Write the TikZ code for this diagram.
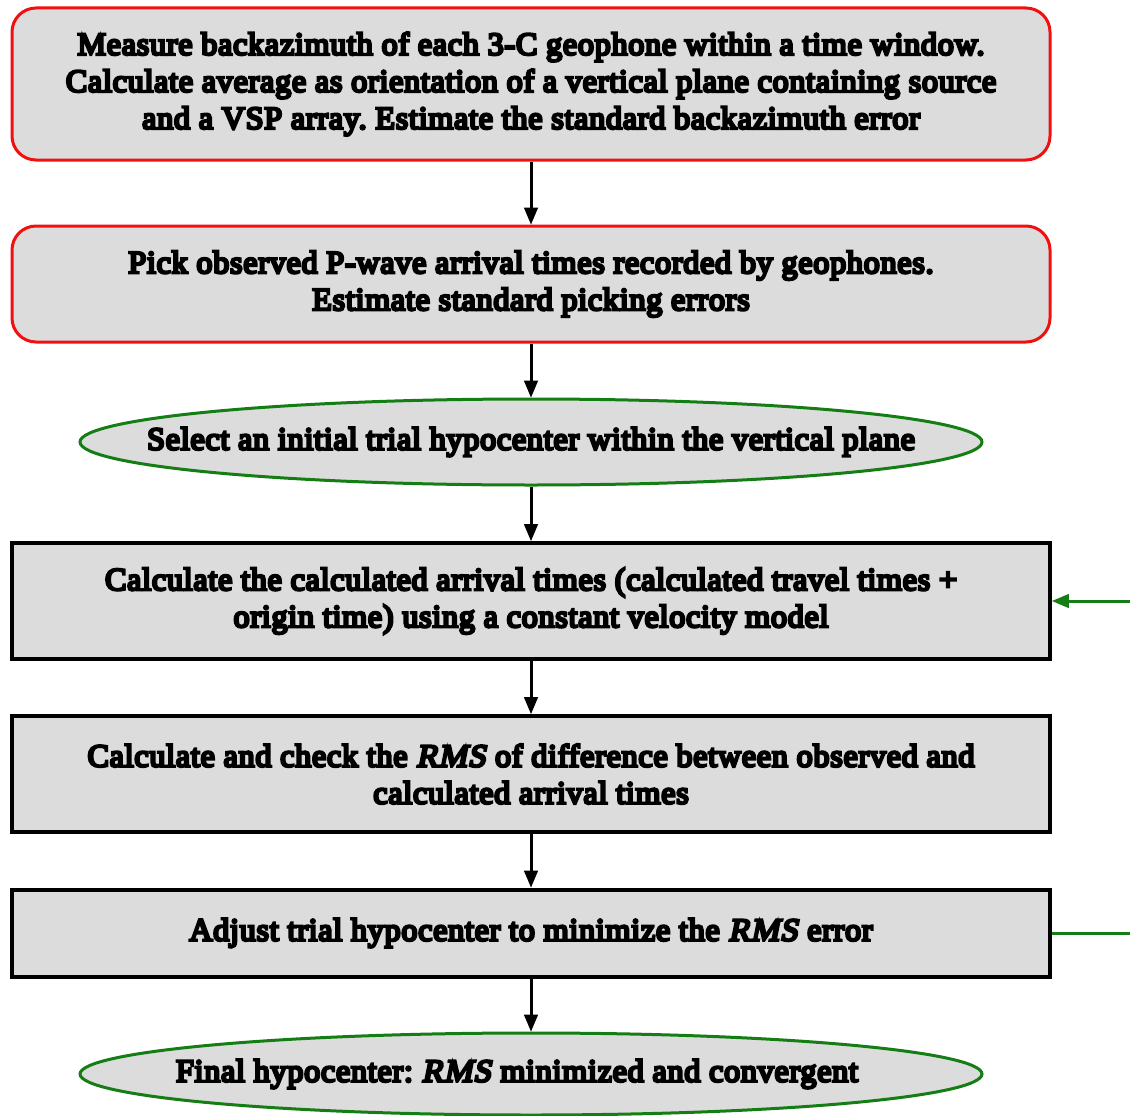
\documentclass[tikz,border=0pt]{standalone}
\usepackage{fontspec}
\setmainfont{Liberation Serif}
\newfontfamily\serifgras{Liberation Serif}[FakeBold=8, LetterSpace=2.5,
  ItalicFont={Liberation Serif}, ItalicFeatures={FakeSlant=0.2, FakeBold=8}]
\frenchspacing
\usetikzlibrary{shapes,%
                arrows}

\definecolor{gris}{RGB}{220,220,220}
\definecolor{rouge}{RGB}{240,16,16}
\definecolor{vert}{RGB}{20,125,20}

\begin{document}
\begin{tikzpicture}[x=1pt,y=-1pt]
  \tikzstyle{texte}=[font=\serifgras\fontsize{32}{37}\selectfont]
  \tikzstyle{boite}=[rectangle, draw=black, fill=gris, line width=4pt, minimum width=1038pt, minimum height=116pt, align=center, texte]
  \tikzstyle{boiterouge}=[boite, draw=rouge, line width=3pt, rounded corners=24pt]
  \tikzstyle{ovale}=[ellipse, draw=vert, fill=gris, line width=3pt, minimum width=902pt, minimum height=86pt]
  \tikzstyle{fleche}=[<-, >=triangle 45, line width=3pt]
  \tikzstyle{retour}=[vert, line width=3pt, >=triangle 45]
  \useasboundingbox (0,0) rectangle (1130,1116);
  \coordinate (entree) at (1130,601);
  \coordinate (sortie) at (1130,933);
  \node[boiterouge, minimum height=152pt] (mesure) at (531,84)
    {Measure backazimuth of each 3-C geophone within a time window.\\
     Calculate average as orientation of a vertical plane containing source\\
     and a VSP array. Estimate the standard backazimuth error};
  \node[boiterouge] (pointe) at (531,284)
    {Pick observed P-wave arrival times recorded by geophones.\\
     Estimate standard picking errors}
    edge [fleche] (mesure);
  \node[ovale, label={[texte]center:Select an initial trial hypocenter within the vertical plane}] (choix) at (531,442) {}
    edge [fleche] (pointe);
  \node[boite] (calcul) at (531,601)
    {Calculate the calculated arrival times (calculated travel times +\\
     origin time) using a constant velocity model}
    edge [fleche] (choix)
    edge [retour, <-] (entree);
  \node[boite] (rms) at (531,774)
    {Calculate and check the \textit{RMS} of difference between observed and\\
     calculated arrival times}
    edge [fleche] (calcul);
  \node[boite, minimum height=87pt] (ajuste) at (531,933)
    {Adjust trial hypocenter to minimize the \textit{RMS} error}
    edge [fleche] (rms)
    edge [retour] (sortie);
  \node[ovale, minimum height=82pt, label={[texte, xshift=-14pt]center:Final hypocenter: \textit{RMS} minimized and convergent}] (final) at (531,1074) {}
    edge [fleche] (ajuste);
\end{tikzpicture}
\end{document}
